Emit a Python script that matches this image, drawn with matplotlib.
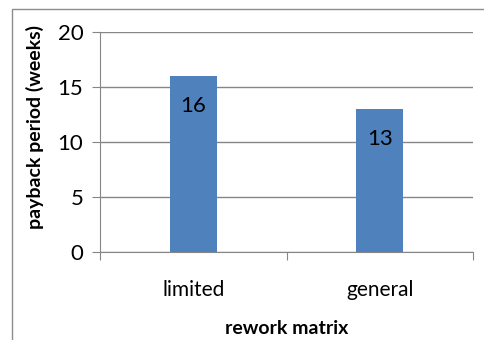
import matplotlib.pyplot as plt
from matplotlib.patches import Rectangle

categories = ['limited', 'general']
weeks = [16, 13]
yticks = [0, 5, 10, 15, 20]

plt.rcParams['font.family'] = ['Lato', 'DejaVu Sans']

fig = plt.figure(figsize=(4.85, 3.4), dpi=100)
ax = fig.add_axes([100 / 485, 1 - 252 / 340, 373 / 485, 220 / 340])

# outer chart border (Excel style), only left/top visible in the crop
fig.patches.append(Rectangle((12 / 485, -0.1), 1.2, (340 - 9) / 340 + 0.1,
                             transform=fig.transFigure, fill=False,
                             edgecolor='#8c8c8c', linewidth=1.0))

x = range(len(categories))
bars = ax.bar(x, weeks, width=0.25, color='#4F81BD', zorder=3)
for b, v in zip(bars, weeks):
    ax.text(b.get_x() + b.get_width() / 2, v - 2.7, str(v), ha='center',
            va='center', fontsize=16, color='black', zorder=4)

ax.set_xlim(-0.5, len(categories) - 0.5)
ax.set_ylim(0, 20)
ax.set_yticks(yticks)
ax.set_xticks([-0.5, 0.5, 1.5], minor=False)
ax.set_xticklabels([])
ax.set_xticks(list(x), minor=True)
ax.set_xticklabels(categories, minor=True, fontsize=15)
ax.tick_params(axis='x', which='minor', length=0, pad=20)
ax.tick_params(axis='x', which='major', length=6, color='#868686', direction='out')
ax.tick_params(axis='y', length=6, color='#868686', labelsize=16, pad=6)

ax.grid(axis='y', color='#868686', linewidth=1.0, zorder=0)
for s in ['top', 'right']:
    ax.spines[s].set_visible(False)
ax.spines['left'].set_color('#868686')
ax.spines['bottom'].set_color('#868686')

ax.set_ylabel('payback period (weeks)', fontsize=14, fontweight='bold')
ax.set_xlabel('rework matrix', fontsize=14, fontweight='bold')
# place axis titles where the Excel chart has them
ax.yaxis.set_label_coords(-65 / 373, 0.57)
ax.xaxis.set_label_coords(0.5, -(328 - 252) / 220)
ax.xaxis.label.set_va('center')
ax.yaxis.label.set_va('center')

fig.savefig('out.png', dpi=100)
